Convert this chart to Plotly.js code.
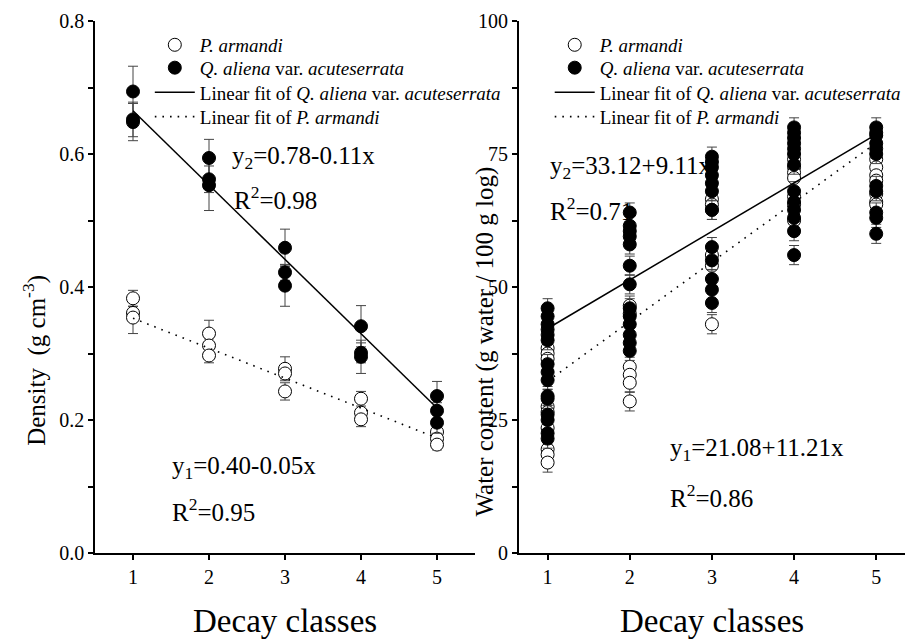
<!DOCTYPE html>
<html><head><meta charset="utf-8">
<script src="https://cdn.plot.ly/plotly-3.0.1.min.js"></script>
<style>html,body{margin:0;padding:0;background:#fff}#chart{width:907px;height:642px}</style>
</head><body><div id="chart"></div><script>
// ---- data ----
const classes = [1, 2, 3, 4, 5];
// Density (g cm-3), three replicates per decay class
const densityQ = [[0.694, 0.652, 0.648], [0.594, 0.562, 0.553], [0.459, 0.422, 0.402], [0.341, 0.301, 0.295], [0.236, 0.214, 0.196]];
const densityQErr = [[0.038, 0.026, 0.028], [0.028, 0.020, 0.038], [0.028, 0.012, 0.031], [0.031, 0.015, 0.025], [0.022, 0.012, 0.016]];
const densityP = [[0.383, 0.361, 0.354], [0.330, 0.312, 0.297], [0.277, 0.270, 0.243], [0.232, 0.211, 0.201], [0.182, 0.172, 0.163]];
const densityPErr = [[0.012, 0.010, 0.024], [0.020, 0.010, 0.011], [0.018, 0.008, 0.013], [0.011, 0.006, 0.011], [0.008, 0.005, 0.008]];
const densityFitQ = [0.665, 0.218];   // fitted line at class 1 and class 5
const densityFitP = [0.353, 0.173];
// Water content (g water / 100 g log)
const waterQ = [
  [46, 44.5, 43, 42, 41, 40, 35.5, 34, 32.5, 29.5, 29, 26, 25, 22.5, 21.5],
  [64, 61.5, 60.5, 59.5, 58, 54, 50.5, 46, 44.5, 43, 41, 39.5, 38],
  [74.5, 73.5, 72.5, 71, 69.5, 68, 64.5, 57.5, 55, 51.5, 49.5, 47],
  [80, 79, 78, 77, 76, 75, 73, 68, 66, 64.5, 63, 60.5, 56],
  [80, 79, 78.5, 77, 76, 75, 69, 68, 64, 63, 60]
];
const waterP = [
  [38.5, 37.5, 36.5, 27.5, 26.5, 23.5, 19.5, 18.5, 17],
  [46.5, 45, 35, 33.5, 32, 28.5],
  [66.5, 65.5, 64.5, 56, 54, 43],
  [74, 72.5, 71.5, 70.5, 67, 65.5, 62.5],
  [74, 72.5, 71, 70, 67.5, 66, 65.5]
];
const waterErr = 1.8;
const waterFitQ = [42.2, 78.7];
const waterFitP = [32.3, 77.1];
const fitX = [1, 5];
const labelP = '<i>P. armandi</i>';
const labelQ = '<i>Q. aliena</i> var. <i>acuteserrata</i>';

function flatX(groups) { const o = []; groups.forEach((g, i) => g.forEach(() => o.push(classes[i]))); return o; }
function flat(groups) { return [].concat(...groups); }

const FONT = 'Liberation Serif, Times New Roman, serif';
const errStyle = (arr) => ({type: 'data', array: arr, visible: true, color: '#444', thickness: 1, width: 5});
const errConst = {type: 'constant', value: waterErr, visible: true, color: '#444', thickness: 1, width: 5};
const openMk = {symbol: 'circle', size: 13, color: '#fff', line: {color: '#000', width: 1}};
const fillMk = {symbol: 'circle', size: 13, color: '#000', line: {color: '#000', width: 1}};
const solidLn = {color: '#000', width: 1.5};
const dotLn = {color: '#000', width: 1.6, dash: '1.6px,6px'};

const traces = [
  {x: flatX(densityP), y: flat(densityP), mode: 'markers', type: 'scatter', name: labelP, marker: openMk, error_y: errStyle(flat(densityPErr)), xaxis: 'x', yaxis: 'y', legend: 'legend'},
  {x: flatX(densityQ), y: flat(densityQ), mode: 'markers', type: 'scatter', name: labelQ, marker: fillMk, error_y: errStyle(flat(densityQErr)), xaxis: 'x', yaxis: 'y', legend: 'legend2'},
  {x: fitX, y: densityFitQ, mode: 'lines', type: 'scatter', name: 'Linear fit of ' + labelQ, line: solidLn, xaxis: 'x', yaxis: 'y', legend: 'legend3'},
  {x: fitX, y: densityFitP, mode: 'lines', type: 'scatter', name: 'Linear fit of ' + labelP, line: dotLn, xaxis: 'x', yaxis: 'y', legend: 'legend4'},
  {x: flatX(waterP), y: flat(waterP), mode: 'markers', type: 'scatter', name: labelP, marker: openMk, error_y: errConst, xaxis: 'x2', yaxis: 'y2', legend: 'legend5'},
  {x: flatX(waterQ), y: flat(waterQ), mode: 'markers', type: 'scatter', name: labelQ, marker: fillMk, error_y: errConst, xaxis: 'x2', yaxis: 'y2', legend: 'legend6'},
  {x: fitX, y: waterFitQ, mode: 'lines', type: 'scatter', name: 'Linear fit of ' + labelQ, line: solidLn, xaxis: 'x2', yaxis: 'y2', legend: 'legend7'},
  {x: fitX, y: waterFitP, mode: 'lines', type: 'scatter', name: 'Linear fit of ' + labelP, line: dotLn, xaxis: 'x2', yaxis: 'y2', legend: 'legend8'}
];

const axBase = {showgrid: false, zeroline: false, showline: true, linecolor: '#000', linewidth: 1.5, ticks: 'outside', ticklen: 5, tickwidth: 1.5, tickcolor: '#000', tickfont: {family: FONT, size: 20, color: '#000'}};
const leg = (x, y) => ({font: {family: FONT, size: 19, color: '#000'}, bgcolor: 'rgba(0,0,0,0)', borderwidth: 0, xanchor: 'left', yanchor: 'middle', itemwidth: 40, x, y});

const ann = (text, xref, yref, x, y, size) => ({text, xref, yref, x, y, xanchor: 'left', yanchor: 'middle', showarrow: false, font: {family: FONT, size: size || 25, color: '#000'}});
const titleAnn = (text, x, y, angle, size) => ({text, xref: 'paper', yref: 'paper', x, y, xanchor: 'center', yanchor: 'middle', textangle: angle, showarrow: false, font: {family: FONT, size, color: '#000'}});

// legend rows (paper y) and columns (paper x)
const rowY = [0.955, 0.912, 0.866, 0.820];
const colL = 0.0675, colR = 0.56;

const layout = {
  width: 907, height: 642,
  margin: {l: 95, r: 0, t: 21, b: 89},
  paper_bgcolor: '#fff', plot_bgcolor: '#fff',
  font: {family: FONT, color: '#000'},
  xaxis: Object.assign({}, axBase, {domain: [0, 0.468], range: [0.5, 5.5], tickvals: classes, anchor: 'y'}),
  yaxis: Object.assign({}, axBase, {domain: [0, 1], range: [0, 0.8], dtick: 0.2, tickformat: '.1f', anchor: 'x',
    minor: {dtick: 0.1, ticks: 'outside', ticklen: 5, tickcolor: '#000', tickwidth: 1.5}}),
  xaxis2: Object.assign({}, axBase, {domain: [0.522, 0.9975], range: [0.65, 5.35], tickvals: classes, anchor: 'y2'}),
  yaxis2: Object.assign({}, axBase, {domain: [0, 1], range: [0, 100], dtick: 25, anchor: 'x2',
    minor: {dtick: 12.5, ticks: 'outside', ticklen: 5, tickcolor: '#000', tickwidth: 1.5}}),
  showlegend: true,
  legend: leg(colL, rowY[0]), legend2: leg(colL, rowY[1]), legend3: leg(colL, rowY[2]), legend4: leg(colL, rowY[3]),
  legend5: leg(colR, rowY[0]), legend6: leg(colR, rowY[1]), legend7: leg(colR, rowY[2]), legend8: leg(colR, rowY[3]),
  annotations: [
    titleAnn('Decay classes', 0.234, -0.128, 0, 33),
    titleAnn('Decay classes', 0.76, -0.128, 0, 33),
    titleAnn('Density  (g cm<sup>-3</sup>)', -0.074, 0.363, -90, 25),
    titleAnn('Water content (g water / 100 g log)', 0.48, 0.397, -90, 25),
    ann('y<sub>2</sub>=0.78-0.11x', 'x', 'y', 2.28, 0.594),
    ann('R<sup>2</sup>=0.98', 'x', 'y', 2.30, 0.534),
    ann('y<sub>1</sub>=0.40-0.05x', 'x', 'y', 1.49, 0.129),
    ann('R<sup>2</sup>=0.95', 'x', 'y', 1.49, 0.065),
    ann('y<sub>2</sub>=33.12+9.11x', 'x2', 'y2', 1.0, 72.5),
    ann('R<sup>2</sup>=0.71', 'x2', 'y2', 1.0, 64.6),
    ann('y<sub>1</sub>=21.08+11.21x', 'x2', 'y2', 2.47, 19.4),
    ann('R<sup>2</sup>=0.86', 'x2', 'y2', 2.47, 10.7)
  ]
};

Plotly.newPlot('chart', traces, layout, {displayModeBar: false});
</script></body></html>
